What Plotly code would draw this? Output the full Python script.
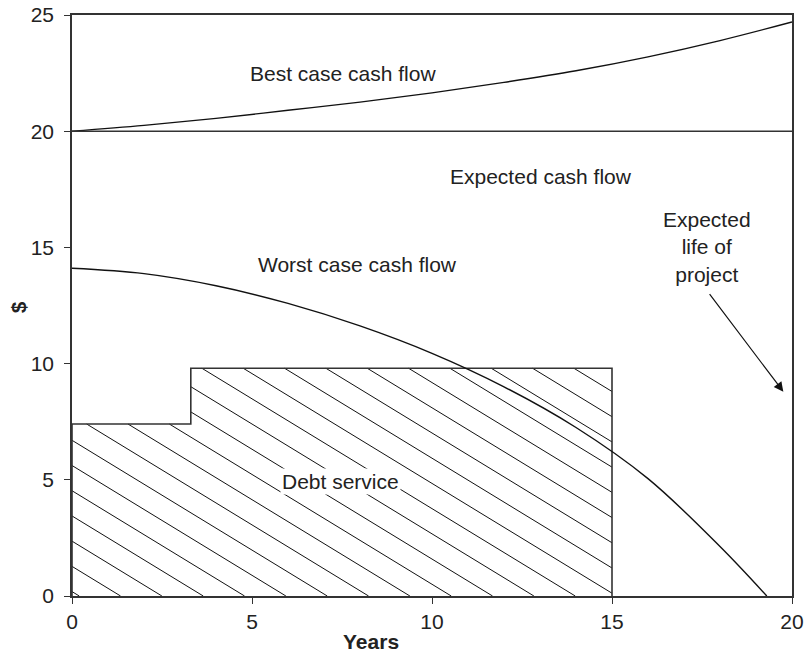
import plotly.graph_objects as go

# values
years = [0, 2, 4, 6, 8, 10, 12, 14, 16, 18, 20]
best_case = [20.0, 20.25, 20.55, 20.9, 21.25, 21.65, 22.1, 22.6, 23.2, 23.9, 24.7]

expected_years = [0, 20]
expected_case = [20, 20]

worst_years = [0, 2, 4, 6, 8, 10, 12, 14, 16, 18, 19.3]
worst_case = [14.1, 13.87, 13.35, 12.59, 11.62, 10.44, 9.0, 7.25, 5.05, 2.13, 0.0]

# debt service steps: level holds from each start year until the next
debt_years = [0, 3.3, 15]
debt_levels = [7.4, 9.8]

project_life = 20

FONT = "Liberation Sans, Arial, sans-serif"
INK = "#222222"
FS = 21

fig = go.Figure()

# hatch for debt service area (lines going down to the right)
slope = 0.945      # data units of y per unit of x
spacing = 1.085    # vertical step between hatch lines at x=0
hx, hy = [], []
x_step, x_end = debt_years[1], debt_years[2]
low, high = debt_levels
c = 0.19
while c < high + slope * x_end + spacing:
    if (c - low) / slope < x_step:
        x0 = max(0.0, (c - low) / slope)
    else:
        x0 = max(x_step, (c - high) / slope)
    x1 = min(x_end, c / slope)
    if x0 < x1:
        hx += [x0, x1, None]
        hy += [c - slope * x0, c - slope * x1, None]
    c += spacing

fig.add_trace(go.Scatter(x=hx, y=hy, mode="lines",
                         line=dict(color="#111111", width=1), hoverinfo="skip"))

# debt service outline
out_x = [debt_years[0], debt_years[0], debt_years[1], debt_years[2], debt_years[2]]
out_y = [0, debt_levels[0], debt_levels[1], debt_levels[1], 0]
fig.add_trace(go.Scatter(x=out_x, y=out_y, mode="lines", line_shape="hv",
                         line=dict(color="#333333", width=1.6)))

fig.add_trace(go.Scatter(x=years, y=best_case, mode="lines", line_shape="spline",
                         line=dict(color="#111111", width=1.4)))
fig.add_trace(go.Scatter(x=expected_years, y=expected_case, mode="lines",
                         line=dict(color="#333333", width=1.4)))
fig.add_trace(go.Scatter(x=worst_years, y=worst_case, mode="lines", line_shape="spline",
                         line=dict(color="#111111", width=1.4)))

labels = [
    ("Best case cash flow", 7.54, 22.5),
    ("Expected cash flow", 13.03, 18.03),
    ("Worst case cash flow", 7.93, 14.26),
    ("Expected<br>life of<br>project", 17.64, 15.0),
]
for text, x, y in labels:
    fig.add_annotation(x=x, y=y, text=text, showarrow=False,
                       font=dict(family=FONT, size=FS, color=INK))

fig.add_annotation(x=7.46, y=4.92, text="Debt service", showarrow=False,
                   bgcolor="white", font=dict(family=FONT, size=FS, color=INK))

# arrow pointing at the project end
fig.add_annotation(x=project_life - 0.24, y=8.79, ax=17.68, ay=13.05,
                   xref="x", yref="y", axref="x", ayref="y", text="",
                   showarrow=True, arrowhead=2, arrowsize=1.6, arrowwidth=1.2,
                   arrowcolor="#111111")

# axis titles
fig.add_annotation(x=-0.075, y=0.497, xref="paper", yref="paper", text="<b>$</b>",
                   xanchor="center", yanchor="middle", textangle=-90, showarrow=False,
                   font=dict(family=FONT, size=FS, color=INK))
fig.add_annotation(x=0.415, y=-0.0775, xref="paper", yref="paper", text="<b>Years</b>",
                   xanchor="center", yanchor="middle", showarrow=False,
                   font=dict(family=FONT, size=FS, color=INK))

axis_common = dict(showline=True, linecolor="#333333", linewidth=1.6, mirror=True,
                   showgrid=False, zeroline=False, ticks="outside", ticklen=6,
                   tickcolor="#333333", tickwidth=1.4, automargin=False,
                   ticklabeloverflow="allow",
                   tickfont=dict(family=FONT, size=FS, color=INK))

fig.update_xaxes(range=[0, 20], tickvals=[0, 5, 10, 15, 20], **axis_common)
fig.update_yaxes(range=[0, 25], tickvals=[0, 5, 10, 15, 20, 25],
                 ticklabelstandoff=6, **axis_common)

fig.update_layout(width=806, height=653, showlegend=False,
                  plot_bgcolor="white", paper_bgcolor="white",
                  margin=dict(l=72, r=14, t=15, b=57))

# drop the default page margin so the figure fills the window exactly
fig.write_html("out.html", config={"displayModeBar": False},
               post_script="document.body.style.margin='0';"
                           "document.body.style.overflow='hidden';")
